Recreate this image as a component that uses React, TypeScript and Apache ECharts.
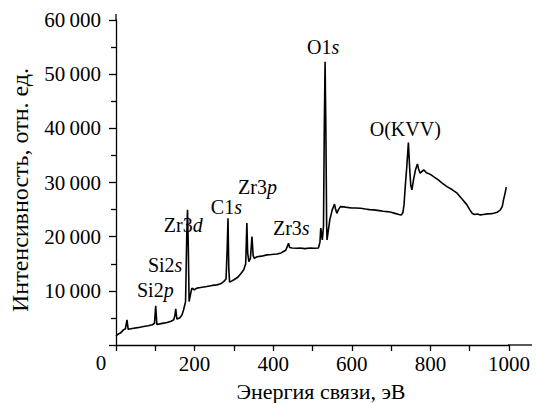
import React, { useEffect, useRef } from "react";
import * as echarts from "echarts";

const energy: number[] = [
  0, 5, 11, 19, 24, 28, 31, 38, 45, 55, 70, 82, 92, 98, 101, 104, 115, 130, 140, 147,
  150, 152, 155, 162, 168, 172, 174, 177, 180, 182, 184, 186, 190, 193, 199, 206, 215, 231, 245, 257,
  266, 274, 280, 283, 285, 287, 289, 294, 299, 310, 318, 325, 330, 333, 335, 338, 342, 346, 349, 352,
  359, 370, 384, 395, 410, 420, 426, 432, 436, 439, 442, 448, 460, 469, 480, 494, 505, 515, 519, 521,
  523, 525, 528, 530, 532, 534, 536, 537, 540, 544, 550, 556, 559, 562, 566, 571, 580, 588, 600, 610,
  622, 635, 645, 656, 670, 680, 690, 700, 710, 720, 726, 730, 733, 736, 740, 744, 747, 750, 753, 757,
  762, 765, 767, 770, 774, 778, 783, 790, 800, 808, 820, 830, 842, 855, 868, 880, 893, 900, 906, 912,
  920, 927, 935, 945, 955, 961, 970, 978, 983, 986, 990, 993,
];

const intensity: number[] = [
  1700, 2000, 2200, 2800, 3000, 4650, 2900, 3000, 3100, 3200, 3400, 3550, 3730, 4000, 7230, 3800, 3950, 4150, 4400, 4650,
  5500, 6680, 4780, 5000, 5570, 6500, 7100, 8000, 20000, 24950, 18000, 8030, 9500, 10500, 10200, 10500, 10600, 10800, 11000, 11100,
  11300, 11700, 12200, 18000, 23400, 14000, 11600, 11800, 12000, 12500, 13200, 13900, 15000, 22500, 17000, 15400, 16000, 20000, 16500, 16000,
  16300, 16400, 16640, 16700, 16800, 17000, 17250, 17500, 18200, 18800, 18000, 17900, 17850, 17900, 17800, 17900, 17850, 17900, 19000, 21570,
  20500, 19400, 22000, 40000, 52300, 40000, 22000, 19400, 21000, 23100, 24900, 26000, 25000, 24300, 25000, 25550, 25500, 25400, 25300, 25300,
  25260, 25100, 25000, 24940, 24800, 24700, 24630, 24500, 24300, 24100, 24020, 24400, 26000, 29240, 33000, 37360, 33000, 29500, 28630, 30500,
  32320, 33000, 33430, 32500, 31720, 32000, 32320, 31800, 31500, 31090, 30500, 29900, 29240, 28700, 28020, 27000, 25870, 25000, 24330, 24100,
  24200, 24020, 24100, 24200, 24250, 24330, 24500, 24940, 25600, 26790, 28000, 29130,
];

// peak annotations: base text, italic suffix, and position in data units
const peakBase: string[] = ["Si2", "Si2", "Zr3", "C1", "Zr3", "Zr3", "O1", "O(KVV)"];
const peakItalic: string[] = ["p", "s", "d", "s", "p", "s", "s", ""];
const peakX: number[] = [100, 125, 171, 281, 360, 446, 527, 736];
const peakY: number[] = [10180, 14800, 22180, 25500, 29100, 21620, 54930, 39890];

const xTitle = "Энергия связи, эВ";
const yTitle = "Интенсивность, отн. ед.";

const FONT = "Liberation Serif";

export default function App() {
  const ref = useRef<HTMLDivElement>(null);

  useEffect(() => {
    if (!ref.current) return;
    const chart = echarts.init(ref.current, null, { renderer: "svg" });
    const data = energy.map((e, i) => [e, intensity[i]]);
    const axisLine = { lineStyle: { color: "#000", width: 1.3 } };
    chart.setOption({
      animation: false,
      backgroundColor: "#fff",
      textStyle: { fontFamily: FONT },
      grid: { left: 116, right: 27, top: 20, bottom: 58, containLabel: false },
      xAxis: {
        type: "value",
        min: 0,
        max: 1000,
        interval: 200,
        axisLine: { show: true, ...axisLine },
        axisTick: { show: true, length: 6, inside: false, lineStyle: { color: "#000", width: 1.3 } },
        minorTick: { show: true, splitNumber: 2, length: 6, lineStyle: { color: "#000", width: 1.3 } },
        splitLine: { show: false },
        axisLabel: {
          margin: 8,
          color: "#000",
          fontFamily: FONT,
          fontSize: 21,
          formatter: (v: number) => (v === 0 ? "" : String(v)),
        },
      },
      yAxis: {
        type: "value",
        min: 0,
        max: 60000,
        interval: 10000,
        axisLine: { show: true, ...axisLine },
        axisTick: { show: true, length: 7, inside: false, lineStyle: { color: "#000", width: 1.3 } },
        minorTick: { show: true, splitNumber: 2, length: 5, lineStyle: { color: "#000", width: 1.3 } },
        splitLine: { show: false },
        axisLabel: {
          margin: 15,
          color: "#000",
          fontFamily: FONT,
          fontSize: 21,
          formatter: (v: number) => (v === 0 ? "" : `${v / 1000}\u2009000`),
        },
      },
      series: [
        {
          type: "line",
          data,
          showSymbol: false,
          symbol: "none",
          lineStyle: { color: "#000", width: 1.6 },
        },
      ],
    });

    const annos = peakBase.map((b, i) => {
      const p = chart.convertToPixel({ xAxisIndex: 0, yAxisIndex: 0 }, [peakX[i], peakY[i]]) as number[];
      return {
        type: "text",
        x: p[0],
        y: p[1],
        style: {
          text: peakItalic[i] ? `{n|${b}}{i|${peakItalic[i]}}` : `{n|${b}}`,
          fontFamily: FONT,
          fontSize: 20,
          fill: "#000",
          align: "center",
          verticalAlign: "middle",
          rich: {
            n: { fontFamily: FONT, fontSize: 20, fill: "#000" },
            i: { fontFamily: FONT, fontSize: 20, fontStyle: "italic", fill: "#000" },
          },
        },
      };
    });

    chart.setOption({
      graphic: [
        { type: "line", shape: { x1: 508, y1: 345, x2: 532, y2: 345 }, style: { stroke: "#000", lineWidth: 1.3 } },
        { type: "line", shape: { x1: 116, y1: 21, x2: 116, y2: 14 }, style: { stroke: "#000", lineWidth: 1.3 } },
        {
          type: "text",
          x: 101,
          y: 363,
          style: { text: "0", fontFamily: FONT, fontSize: 21, fill: "#000", align: "center", verticalAlign: "middle" },
        },
        {
          type: "text",
          x: 321,
          y: 391,
          style: { text: xTitle, fontFamily: FONT, fontSize: 22, fill: "#000", align: "center", verticalAlign: "middle" },
        },
        {
          type: "text",
          x: 20,
          y: 190,
          rotation: Math.PI / 2,
          style: { text: yTitle, fontFamily: FONT, fontSize: 24, fill: "#000", align: "center", verticalAlign: "middle" },
        },
        ...annos,
      ],
    });

    return () => chart.dispose();
  }, []);

  return (
    <div
      ref={ref}
      style={{ position: "fixed", left: 0, top: 0, width: 536, height: 403, background: "#fff" }}
    />
  );
}
